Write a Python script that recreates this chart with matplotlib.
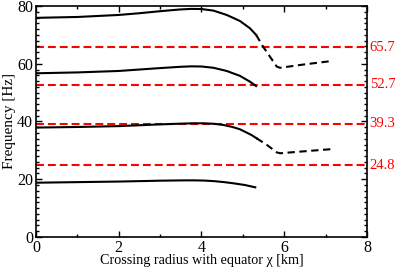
import numpy as np
import matplotlib
matplotlib.use('Agg')
import matplotlib.pyplot as plt
from matplotlib.ticker import MultipleLocator

plt.rcParams['font.family'] = ['Liberation Serif', 'DejaVu Serif']

# solid branches
x1 = [0.0, 1.0, 2.0, 2.5, 3.0, 3.5, 3.8, 4.05, 4.3, 4.55, 4.77, 5.05, 5.3]
y1 = [18.8, 19.0, 19.2, 19.35, 19.5, 19.6, 19.62, 19.55, 19.35, 19.0, 18.6, 18.0, 17.2]

x2 = [0.0, 1.0, 2.0, 2.5, 3.0, 3.5, 3.8, 4.05, 4.3, 4.53, 4.75, 4.93, 5.1, 5.21, 5.33]
y2 = [37.9, 38.1, 38.4, 38.7, 39.0, 39.25, 39.38, 39.38, 39.2, 38.8, 38.1, 37.3, 36.1, 35.3, 34.2]

x3 = [0.0, 1.0, 2.0, 2.5, 3.0, 3.5, 3.75, 4.0, 4.29, 4.61, 4.93, 5.17, 5.32]
y3 = [56.7, 57.0, 57.5, 58.0, 58.5, 58.95, 59.1, 59.05, 58.6, 57.5, 55.8, 53.8, 52.3]

x4 = [0.0, 1.0, 2.0, 2.5, 3.0, 3.48, 3.75, 4.0, 4.29, 4.61, 4.93, 5.17, 5.32]
y4 = [75.9, 76.2, 76.9, 77.5, 78.2, 78.8, 79.0, 78.95, 78.4, 76.9, 74.8, 72.3, 70.0]

# dashed continuations
x2d = [5.33, 5.58, 5.82, 5.9, 6.5, 7.12]
y2d = [34.2, 31.9, 29.3, 29.0, 29.7, 30.4]

x4d = [5.32, 5.49, 5.82, 5.9, 6.5, 7.12]
y4d = [70.0, 65.9, 59.0, 58.6, 59.8, 60.9]

# reference frequencies
ref_freqs = [65.7, 52.7, 39.3, 24.8]

fig = plt.figure(figsize=(3.95, 2.68), dpi=100)
ax = fig.add_axes([0.0911, 0.1157, 0.8380, 0.8619])

for f in ref_freqs:
    ax.axhline(f, color='red', lw=1.5, dashes=(3.8, 1.9), zorder=1)
    ax.text(1.008, f, '%.1f' % f, transform=ax.get_yaxis_transform(),
            color='red', fontsize=10.5, va='center', ha='left')

for xs, ys in [(x1, y1), (x2, y2), (x3, y3), (x4, y4)]:
    ax.plot(xs, ys, color='black', lw=1.5, zorder=2)
for xs, ys in [(x2d, y2d), (x4d, y4d)]:
    ax.plot(xs, ys, color='black', lw=1.5, dashes=(3.5, 2.2), zorder=2)

ax.set_xlim(0, 8)
ax.set_ylim(0, 80)
ax.xaxis.set_major_locator(MultipleLocator(2))
ax.xaxis.set_minor_locator(MultipleLocator(1))
ax.yaxis.set_major_locator(MultipleLocator(20))
ax.yaxis.set_minor_locator(MultipleLocator(2))
ax.tick_params(which='both', direction='in', top=True, right=True,
               labelsize=11.5, width=1.0, pad=2)
ax.tick_params(which='major', length=4.5)
ax.tick_params(which='minor', length=2.2)
for s in ax.spines.values():
    s.set_linewidth(1.2)

ax.set_xlabel('Crossing radius with equator χ [km]', fontsize=10.2, labelpad=-1)
ax.set_ylabel('Frequency [Hz]', fontsize=11, labelpad=1)

fig.savefig('out.png', dpi=100)
